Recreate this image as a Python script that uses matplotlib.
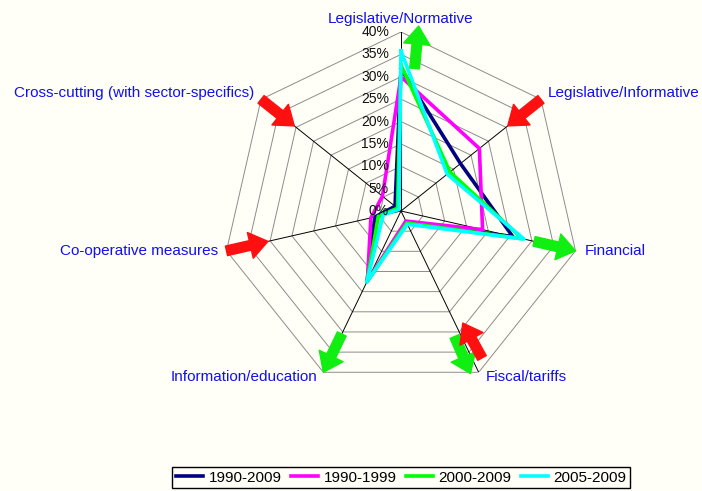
import numpy as np
import matplotlib
matplotlib.use('Agg')
from matplotlib import pyplot as plt

plt.rcParams['font.family'] = ['Liberation Sans', 'DejaVu Sans']

categories = ['Legislative/Normative', 'Legislative/Informative', 'Financial',
              'Fiscal/tariffs', 'Information/education', 'Co-operative measures',
              'Cross-cutting (with sector-specifics)']
series_names = ['1990-2009', '1990-1999', '2000-2009', '2005-2009']
v_1990_2009 = [31.8, 17.0, 25.6, 3.0, 17.5, 6.0, 1.7]
v_1990_1999 = [30.0, 22.4, 18.7, 2.5, 17.3, 6.9, 5.3]
v_2000_2009 = [32.6, 14.0, 27.8, 3.0, 17.5, 5.2, 1.0]
v_2005_2009 = [35.8, 13.2, 28.2, 3.3, 17.6, 4.1, 0.6]
rings = [0, 5, 10, 15, 20, 25, 30, 35, 40]
ring_labels = ['0%', '5%', '10%', '15%', '20%', '25%', '30%', '35%', '40%']
# trend arrows: +1 = green outward, -1 = red inward
trend = [1, -1, 1, 1, 1, -1, -1]
colors = ['#000080', '#FF00FF', '#00FF00', '#00FFFF']
bg = '#FFFEF7'

n = len(categories)
theta = np.arange(n) * 2 * np.pi / n
theta_c = np.append(theta, theta[0])

fig = plt.figure(figsize=(7.02, 4.91), dpi=100, facecolor=bg)
ax = fig.add_axes([222 / 702, 101 / 491, 358 / 702, 358 / 491], projection='polar')
ax.set_theta_offset(np.pi / 2)
ax.set_theta_direction(-1)
ax.set_ylim(0, 40)
ax.grid(False)
ax.set_xticks([])
ax.set_yticks([])
ax.spines['polar'].set_visible(False)
ax.patch.set_alpha(0)

# heptagon rings and spokes
for r in rings[1:]:
    ax.plot(theta_c, [r] * (n + 1), color='#8c8c8c', lw=0.7, zorder=1)
for t in theta:
    ax.plot([t, t], [0, 40], color='black', lw=0.7, zorder=1)

# radial labels
for r, lab in zip(rings, ring_labels):
    ax.annotate(lab, xy=(0, r), xytext=(-12, 0), textcoords='offset pixels',
                ha='right', va='center', fontsize=10, color='#111111', zorder=5)

# category labels
offsets = [(0, 6, 'center', 'bottom'), (7, 6, 'left', 'center'),
           (9, 0, 'left', 'center'), (7, -5, 'left', 'center'),
           (-6, -5, 'right', 'center'), (-8, 0, 'right', 'center'),
           (-7, 6, 'right', 'center')]
for t, lab, (dx, dy, ha, va) in zip(theta, categories, offsets):
    ax.annotate(lab, xy=(t, 40), xytext=(dx, dy), textcoords='offset pixels',
                ha=ha, va=va, fontsize=11, color='#1010F0', annotation_clip=False)

# data series
for vals, name, c in zip([v_1990_2009, v_1990_1999, v_2000_2009, v_2005_2009],
                         series_names, colors):
    ax.plot(theta_c, vals + vals[:1], color=c, lw=2.6, label=name, zorder=3)

# trend arrows
style = 'simple,head_length=13,head_width=19,tail_width=7'


def arrow(t, r_from, r_to, c):
    ax.annotate('', xy=(t, r_to), xytext=(t, r_from), annotation_clip=False,
                arrowprops=dict(arrowstyle=style, color=c, mutation_scale=1,
                                shrinkA=0, shrinkB=0), zorder=4)


for i, (t, tr) in enumerate(zip(theta, trend)):
    if i == 0:
        arrow(t + 0.095, 32, 41.5, '#11EE11')
    elif i == 3:
        arrow(t + 0.045, 30.5, 39.5, '#11EE11')
        arrow(t - 0.055, 37.5, 28.6, '#FF1010')
    elif tr > 0:
        arrow(t, 30.5, 40, '#11EE11')
    else:
        arrow(t, 40, 30.5, '#FF1010')

leg = fig.legend(loc='center', bbox_to_anchor=(401 / 702, 1 - 477.5 / 491),
                 ncol=4, fontsize=11, frameon=True, fancybox=False,
                 edgecolor='black', facecolor=bg, framealpha=1,
                 handlelength=1.8, handletextpad=0.35, columnspacing=0.6,
                 borderpad=0.25, borderaxespad=0)
leg.get_frame().set_linewidth(1.0)

fig.savefig('out.png', dpi=100, facecolor=bg)
